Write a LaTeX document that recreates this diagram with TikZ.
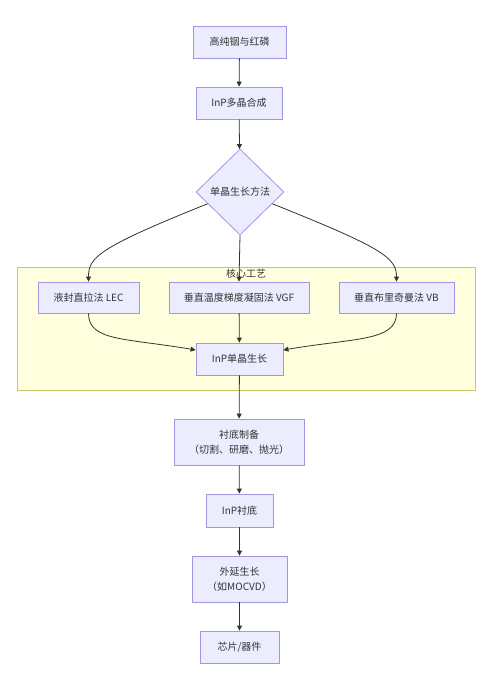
\documentclass[tikz,border=0pt]{standalone}
\usepackage{fontspec}
\setmainfont{Noto Sans CJK SC}
\usetikzlibrary{shapes.geometric,arrows.meta}
\definecolor{boxfill}{HTML}{ECECFF}
\definecolor{boxline}{HTML}{A594E2}
\definecolor{txt}{HTML}{333333}
\definecolor{clfill}{HTML}{FFFFDE}
\definecolor{clline}{HTML}{C8C86A}
\tikzset{
  box/.style={draw=boxline, fill=boxfill, line width=0.8pt, text=txt, inner sep=0pt,
    font=\fontsize{10}{15}\selectfont, align=center},
  dia/.style={diamond, draw=boxline, fill=boxfill, line width=0.8pt, text=txt, inner sep=0pt,
    font=\fontsize{10}{15}\selectfont},
  cluster/.style={draw=clline, fill=clfill, line width=0.8pt, inner sep=0pt},
  arr/.style={draw=txt, line width=0.8pt, -{Triangle[length=5pt,width=5pt]}},
}
\begin{document}
\begin{tikzpicture}[x=1pt,y=-1pt]
\useasboundingbox[fill=white] (0,0) rectangle (490,680);
\node[cluster, minimum width=458, minimum height=123] (cl) at (246,328.5) {};
\node[text=txt, font=\fontsize{10}{12}\selectfont] (cllabel) at (246,274) {核心工艺};

\node[box, minimum width=93, minimum height=32] (n1) at (239.5,42) {高纯铟与红磷};
\node[box, minimum width=86, minimum height=32] (n2) at (239,103) {InP多晶合成};
\node[dia, minimum width=88, minimum height=86] (d) at (240,192) {单晶生长方法};
\node[box, minimum width=101, minimum height=31] (lec) at (88.5,297.5) {液封直拉法 LEC};
\node[box, minimum width=140, minimum height=31] (vgf) at (239,297.5) {垂直温度梯度凝固法 VGF};
\node[box, minimum width=115, minimum height=31] (vb) at (396.5,297.5) {垂直布里奇曼法 VB};
\node[box, minimum width=87, minimum height=32] (xtal) at (239.5,359) {InP单晶生长};
\node[box, minimum width=130, minimum height=46] (prep) at (239,442) {衬底制备\\（切割、研磨、抛光）};
\node[box, minimum width=67, minimum height=33] (sub) at (239.5,510.5) {InP衬底};
\node[box, minimum width=95, minimum height=46] (epi) at (239.5,579) {外延生长\\（如MOCVD）};
\node[box, minimum width=79, minimum height=32] (chip) at (239.5,647) {芯片/器件};

\draw[arr] (n1) -- (n2);
\draw[arr] (n2) -- (d);
\draw[arr] (d.south) -- (vgf.north);
\draw[arr] (d.200) .. controls +(-110,44) and +(0,-24) .. (lec.north);
\draw[arr] (d.-20) .. controls +(110,44) and +(0,-24) .. (vb.north);
\draw[arr] (lec.south) .. controls +(0,28) and +(-70,-12) .. ([yshift=9pt]xtal.west);
\draw[arr] (vb.south) .. controls +(0,28) and +(70,-12) .. ([yshift=9pt]xtal.east);
\draw[arr] (vgf) -- (xtal);
\draw[arr] (xtal) -- (prep);
\draw[arr] (prep) -- (sub);
\draw[arr] (sub) -- (epi);
\draw[arr] (epi) -- (chip);
\end{tikzpicture}
\end{document}
